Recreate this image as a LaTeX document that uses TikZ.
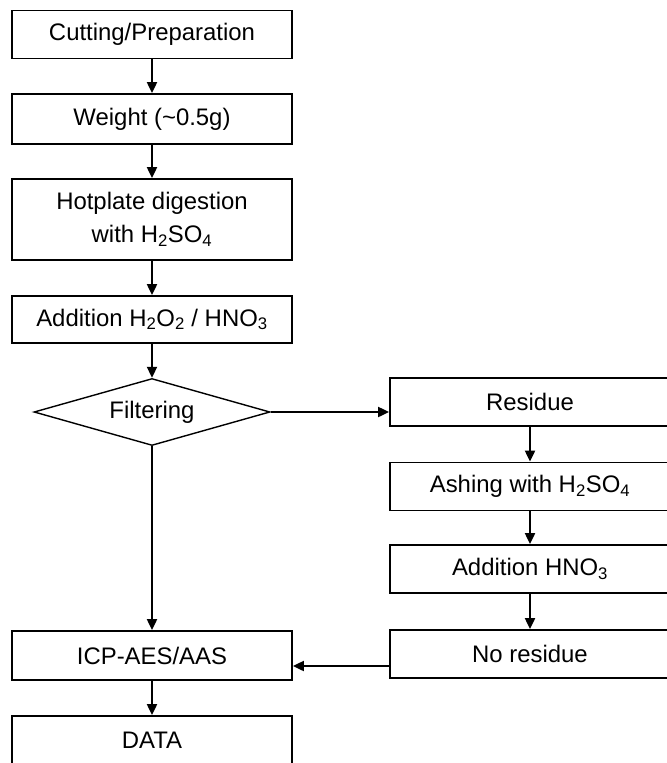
\documentclass[tikz,border=0pt]{standalone}
\usepackage{fontspec}
\setmainfont{Liberation Sans}
\usetikzlibrary{shapes.geometric,arrows.meta}
\begin{document}
\begin{tikzpicture}[x=1bp,y=-1bp,
  box/.style={draw,line width=1.8bp,minimum width=280bp,minimum height=48bp,inner sep=0pt,
    font=\fontsize{24}{33}\selectfont,align=center},
  filt/.style={draw,diamond,aspect=3.5,line width=1.4bp,minimum width=236bp,minimum height=67bp,
    inner sep=0pt,font=\fontsize{24}{33}\selectfont},
  link/.style={line width=2bp,-{Triangle[length=11bp,width=10bp]}}]
\useasboundingbox (0,0) rectangle (667,763) ;

\begin{scope}
\node[box] (cut) at (152,34.5) {Cutting/Preparation} ;
\node[box,minimum height=50bp] (weight) at (152,119) {Weight (\textasciitilde0.5g)} ;
\node[box,minimum height=81bp] (hot) at (152,219.5) {Hotplate digestion\\with H\textsubscript{2}SO\textsubscript{4}} ;
\node[box,minimum height=47bp] (addmix) at (152,319.5) {Addition H\textsubscript{2}O\textsubscript{2} / HNO\textsubscript{3}} ;
\node[filt] (filter) at (152,412) {Filtering} ;
\node[box,minimum height=49bp] (icp) at (152,655.5) {ICP-AES/AAS} ;
\node[box,minimum height=49bp] (data) at (152,740.5) {DATA} ;
\end{scope}

\begin{scope}
\node[box] (res) at (530,402) {Residue} ;
\node[box] (ash) at (530,486.5) {Ashing with H\textsubscript{2}SO\textsubscript{4}} ;
\node[box] (addhno) at (530,569) {Addition HNO\textsubscript{3}} ;
\node[box] (nores) at (530,654) {No residue} ;
\end{scope}

\draw[link] (cut) -- (weight) ;
\draw[link] (weight) -- (hot) ;
\draw[link] (hot) -- (addmix) ;
\draw[link] (addmix) -- (filter) ;
\draw[link] (filter) -- (icp) ;
\draw[link] (icp) -- (data) ;
\draw[link] (filter.east) -- (filter.east -| res.west) ;
\draw[link] (res) -- (ash) ;
\draw[link] (ash) -- (addhno) ;
\draw[link] (addhno) -- (nores) ;
\draw[link] ([yshift=-12bp]nores.west) -- ([yshift=-12bp]nores.west -| icp.east) ;
\end{tikzpicture}
\end{document}
